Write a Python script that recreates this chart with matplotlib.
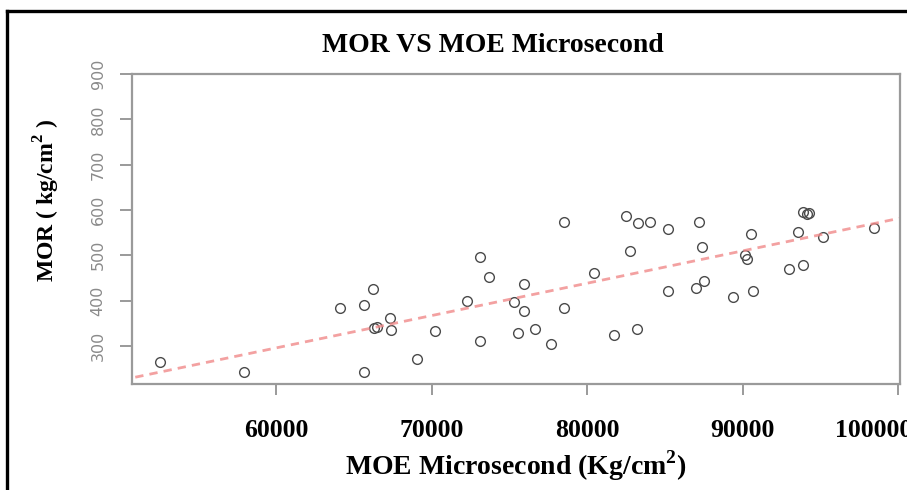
import numpy as np
import matplotlib
matplotlib.use("Agg")
import matplotlib.pyplot as plt
import matplotlib.transforms as mtransforms
from matplotlib.lines import Line2D

# values
moe = [52480, 57900, 64100, 65650, 66230, 67320, 66300, 66500, 67390, 65650,
       69070, 70230, 72230, 73070, 73650, 73070, 75900, 75260, 75900, 75520,
       76610, 77650, 78480, 78480, 80420, 81710, 83190, 82480, 83260, 84030,
       82740, 85190, 85190, 87190, 87390, 87000, 87520, 89390, 90150, 90300,
       90550, 90680, 93000, 93900, 93580, 93900, 94150, 94250, 95190, 98480]
mor = [265, 243, 384, 390, 426, 362, 340, 342, 335, 243,
       271, 333, 399, 496, 452, 311, 437, 397, 377, 329,
       337, 304, 384, 574, 461, 324, 337, 587, 571, 574,
       510, 558, 421, 574, 518, 428, 443, 408, 500, 492,
       547, 421, 470, 479, 551, 596, 592, 594, 540, 560]

# fitted line as drawn in the picture
fit_intercept = -132.0
fit_slope = 0.00713

xticks = [60000, 70000, 80000, 90000, 100000]
yticks = [300, 400, 500, 600, 700, 800, 900]

plt.rcParams['mathtext.fontset'] = 'custom'
plt.rcParams['mathtext.rm'] = 'Liberation Serif'
plt.rcParams['mathtext.bf'] = 'Liberation Serif:bold'

fig = plt.figure(figsize=(9.07, 4.90), dpi=100)
ax = fig.add_axes([132/907, 1-384/490, (900-132)/907, (384-74)/490])

ax.plot(moe, mor, linestyle='none', marker='o', markersize=7,
        markerfacecolor='none', markeredgecolor='#4a4a4a', markeredgewidth=1.0)

xx = np.array([50000, 101000])
ax.plot(xx, fit_intercept + fit_slope*xx, color='#f08a8a', lw=2.0,
        linestyle=(0, (3, 2.2)), alpha=0.8)

ax.set_xlim(50700, 100130)
ax.set_ylim(216, 900)
ax.set_xticks(xticks)
ax.set_yticks(yticks)

for s in ax.spines.values():
    s.set_color('#9a9a9a')
    s.set_linewidth(1.6)

ax.tick_params(axis='x', length=8, width=1.4, color='#9a9a9a', pad=17)
ax.tick_params(axis='y', length=9, width=1.4, color='#9a9a9a', pad=10,
               labelrotation=90, labelcolor='#8a8a8a', labelsize=11.5)
for t in ax.get_xticklabels():
    t.set_fontfamily('Liberation Serif')
    t.set_fontweight('bold')
    t.set_fontsize(18.5)
for t in ax.get_yticklabels():
    t.set_va('center')

# last label sits a bit left of its tick in the original (cut at the edge)
last = ax.get_xticklabels()[-1]
last.set_transform(last.get_transform() +
                   mtransforms.ScaledTranslation(-0.24, 0, fig.dpi_scale_trans))

fig.text(493/907, 1-46/490, 'MOR VS MOE Microsecond', ha='center', va='center',
         fontsize=20, fontweight='bold', family='Liberation Serif')
fig.text(516/907, 1-466/490, r'MOE Microsecond (Kg/cm$^{\mathbf{2}}$)', ha='center',
         va='center', fontsize=20, fontweight='bold', family='Liberation Serif')
fig.text(47/907, 1-200/490, r'MOR ( kg/cm$^{\mathbf{2}}$ )', ha='center', va='center',
         rotation=90, fontsize=17, fontweight='bold', family='Liberation Serif')

# black frame around the picture (top and left)
fig.add_artist(Line2D([7/907, 1.0], [1-11/490, 1-11/490], color='black', lw=2.4))
fig.add_artist(Line2D([7/907, 7/907], [0.0, 1-11/490], color='black', lw=2.4))

fig.savefig('out.png', dpi=100)
